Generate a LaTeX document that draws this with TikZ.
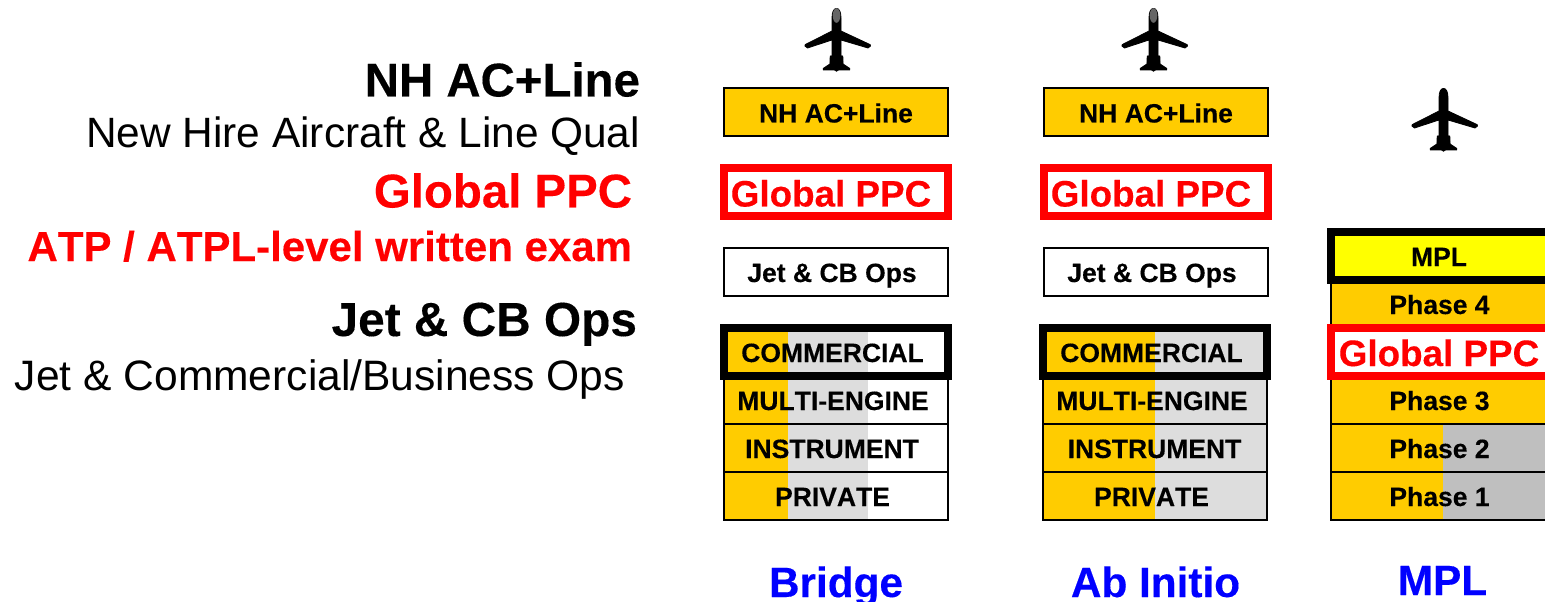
\documentclass[tikz,border=0pt]{standalone}
\usepackage{fontspec}
\setmainfont[Kerning=Off,BoldFeatures={FakeBold=0.25}]{Liberation Sans}
\definecolor{amber}{HTML}{FFCC00}
\definecolor{lgray}{HTML}{DDDDDD}
\definecolor{mgray}{HTML}{BFBFBF}
\definecolor{nose}{HTML}{666666}
\definecolor{pureblue}{HTML}{0000FF}
\definecolor{purered}{HTML}{FF0000}
\definecolor{pureyellow}{HTML}{FFFF00}
\newcommand{\fs}[1]{\fontsize{#1bp}{#1bp}\selectfont}
\tikzset{
  x=1bp,y=-1bp,
  txt/.style={inner sep=0pt,outer sep=0pt,anchor=base},
  lefttxt/.style={inner sep=0pt,outer sep=0pt,anchor=base east},
  boxlab/.style={txt,font=\fs{26.5}\bfseries},
  ppclab/.style={txt,font=\fs{36.8}\bfseries,text=purered},
  collab/.style={txt,font=\fs{42.3}\bfseries,text=pureblue},
  thin box/.style={draw=black,line width=2.4bp},
  heavy box/.style={draw=black,line width=8bp,miter limit=10},
  red box/.style={draw=purered,line width=8bp},
  plane/.pic={
    \filldraw[black,line width=.8bp,line join=round] (0,0.4) .. controls (2.8,0.4) and (4.5,4) .. (4.5,10)
      -- (4.5,23) -- (33.6,36.6) -- (34,38) -- (31.5,40) -- (4.5,32) -- (4.5,48) -- (6.3,48) -- (6.6,56)
      -- (13.3,60.5) -- (13.3,62) -- (2,62) -- (0,63.2) -- (-2,62) -- (-13.3,62) -- (-13.3,60.5) -- (-6.6,56)
      -- (-6.3,48) -- (-4.5,48) -- (-4.5,32) -- (-29,40) -- (-31.6,38) -- (-31.3,36.6) -- (-4.5,23) -- (-4.5,10)
      .. controls (-4.5,4) and (-2.8,0.4) .. (0,0.4) -- cycle;
  },
  gray nose/.pic={\fill[nose] (0,7.5) ellipse [x radius=3.8,y radius=7.3];},
}
\begin{document}
\begin{tikzpicture}
\useasboundingbox (0,0) rectangle (1545,602);
\clip (0,0) rectangle (1545,602);
% left captions
\node[lefttxt,font=\fs{47.4}\bfseries] (capA) at (640,96.5) {NH AC+Line};
\node[lefttxt,font=\fs{42.4}] (capB) at (640,148) {New Hire Aircraft \& Line Qual};
\node[lefttxt,font=\fs{47.4}\bfseries,text=purered] (capC) at (632,207.5) {Global PPC};
\node[lefttxt,font=\fs{42}\bfseries,text=purered] (capD) at (632,261) {ATP / ATPL-level written exam};
\node[lefttxt,font=\fs{47.8}\bfseries] (capE) at (637,336) {Jet \& CB Ops};
\node[lefttxt,font=\fs{42.55}] (capF) at (625,390) {Jet \& Commercial/Business Ops};

% planes
\pic at (836.5,8) {plane};
\pic at (836.5,8) {gray nose};
\pic at (1153.5,8) {plane};
\pic at (1153.5,8) {gray nose};
\pic at (1443.5,88) {plane};

% Bridge column
\draw[thin box,fill=amber] (724,88) rectangle (948,136);
\node[boxlab] (b1) at (836,122.5) {NH AC+Line};
\draw[red box,fill=white] (724,168) rectangle (948,216);
\node[ppclab] (b2) at (831,206.5) {Global PPC};
\draw[thin box,fill=white] (724,248) rectangle (948,296);
\node[boxlab] (b3) at (832,282) {Jet \& CB Ops};
\foreach \t in {328,376,424,472}{
  \fill[amber] (724,\t) rectangle (788,\t+48);
  \fill[lgray] (788,\t) rectangle (868,\t+48);
  \fill[white] (868,\t) rectangle (948,\t+48);
  \draw[thin box] (724,\t) rectangle (948,\t+48);
}
\draw[heavy box] (724,328) rectangle (948,376);
\node[boxlab] (b4) at (832.5,362) {COMMERCIAL};
\node[boxlab] (b5) at (833,410) {MULTI-ENGINE};
\node[boxlab] (b6) at (832,458) {INSTRUMENT};
\node[boxlab] (b7) at (832.5,506) {PRIVATE};
\node[collab] (b8) at (836,597) {Bridge};

% Ab Initio column
\draw[thin box,fill=amber] (1044,88) rectangle (1268,136);
\node[boxlab] (a1) at (1156,122.5) {NH AC+Line};
\draw[red box,fill=white] (1044,168) rectangle (1268,216);
\node[ppclab] (a2) at (1151,206.5) {Global PPC};
\draw[thin box,fill=white] (1044,248) rectangle (1268,296);
\node[boxlab] (a3) at (1152,282) {Jet \& CB Ops};
\foreach \t in {328,376,424,472}{
  \fill[amber] (1043,\t) rectangle (1155,\t+48);
  \fill[lgray] (1155,\t) rectangle (1267,\t+48);
  \draw[thin box] (1043,\t) rectangle (1267,\t+48);
}
\draw[heavy box] (1043,328) rectangle (1267,376);
\node[boxlab] (a4) at (1151.5,362) {COMMERCIAL};
\node[boxlab] (a5) at (1152,410) {MULTI-ENGINE};
\node[boxlab] (a6) at (1154.5,458) {INSTRUMENT};
\node[boxlab] (a7) at (1151.5,506) {PRIVATE};
\node[collab] (a8) at (1155.5,597) {Ab Initio};

% MPL column
\draw[thin box,fill=amber] (1331,280) rectangle (1555,328);
\draw[thin box,fill=amber] (1331,376) rectangle (1555,424);
\foreach \t in {424,472}{
  \fill[amber] (1331,\t) rectangle (1443,\t+48);
  \fill[mgray] (1443,\t) rectangle (1555,\t+48);
  \draw[thin box] (1331,\t) rectangle (1555,\t+48);
}
\draw[heavy box,fill=pureyellow] (1331,232) rectangle (1555,280);
\draw[red box,fill=white] (1331,328) rectangle (1555,376);
\node[boxlab] (m1) at (1439,266) {MPL};
\node[boxlab] (m2) at (1439.5,314) {Phase 4};
\node[ppclab] (m3) at (1439,366) {Global PPC};
\node[boxlab] (m4) at (1439.5,410) {Phase 3};
\node[boxlab] (m5) at (1439.5,458) {Phase 2};
\node[boxlab] (m6) at (1439.5,506) {Phase 1};
\node[collab] (m7) at (1442.5,595) {MPL};
\end{tikzpicture}
\end{document}
